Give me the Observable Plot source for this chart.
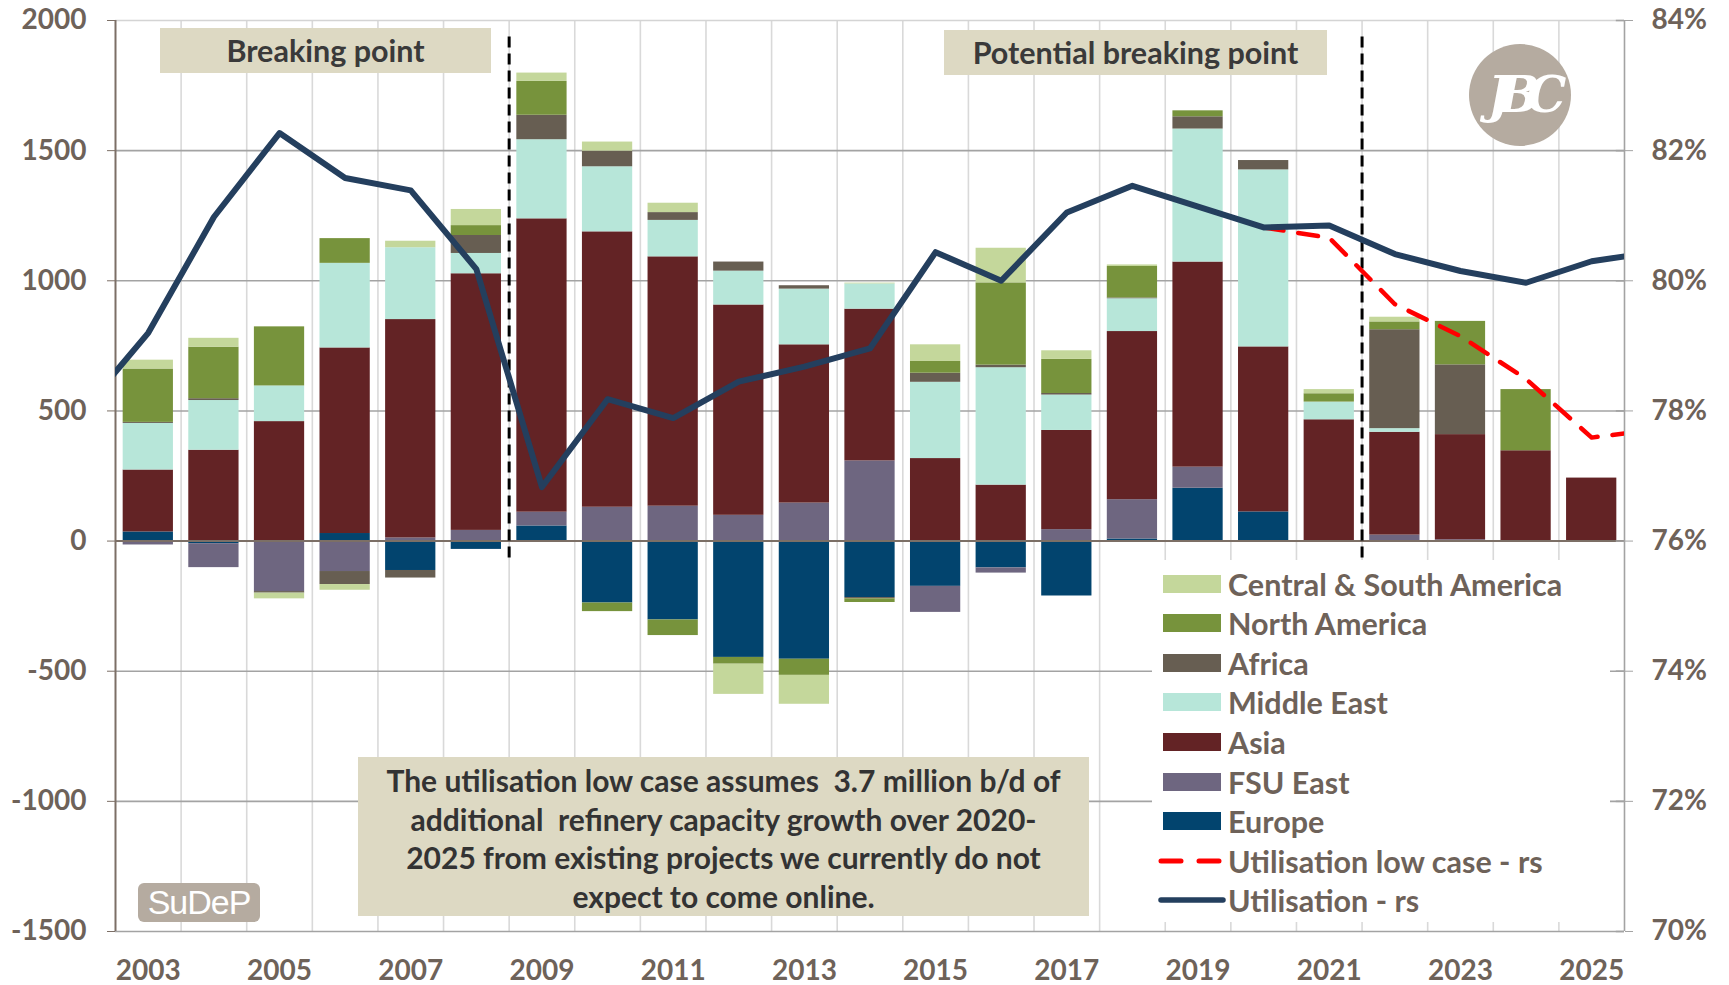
<!DOCTYPE html>
<html><head><meta charset="utf-8">
<script src="https://cdn.jsdelivr.net/npm/d3@7"></script>
<script src="https://cdn.jsdelivr.net/npm/@observablehq/plot@0.6"></script>
<style>
html,body{margin:0;padding:0;background:#fff;}
#wrap{position:relative;width:1729px;height:985px;overflow:hidden;font-family:Lato,"Open Sans",sans-serif;}
#wrap svg text{font-weight:700;}
.box{position:absolute;background:#ddd9c3;color:#3a3a3a;font-weight:700;text-align:center;box-sizing:border-box;white-space:nowrap;}
.legend{position:absolute;background:#fff;}
.lrow{position:absolute;left:0;height:40px;display:flex;align-items:center;color:#6e6259;font-weight:700;font-size:30.5px;white-space:nowrap;}
.sw{width:58px;height:18px;margin-left:11px;margin-right:7px;}
</style></head><body><div id="wrap"></div>
<script>
// ---- data ----
const years = [2003,2004,2005,2006,2007,2008,2009,2010,2011,2012,2013,2014,2015,2016,2017,2018,2019,2020,2021,2022,2023,2024,2025];
const regions = ["Europe","FSU East","Asia","Middle East","Africa","North America","Central & South America"];
const regionColors = ["#02446e","#6e6680","#632325","#b7e6d9","#675e52","#77933c","#c4d79b"];
const europe       = [35,-10,0,29,-113,-32,58,-238,-303,-447,-454,-217,-174,-103,-211,8,203,112,0,0,0,0,0];
const fsuEast      = [-15,-92,-194,-117,12,41,53,130,134,99,146,308,-100,-20,44,151,81,0,0,23,5,0,0];
const asia         = [238,349,459,713,839,986,1127,1058,958,808,608,583,317,215,381,646,788,634,466,395,404,347,242];
const middleEast   = [179,191,137,325,276,78,304,250,140,130,214,97,293,451,136,126,511,680,68,14,0,0,0];
const africa       = [4,7,-6,-50,-29,69,94,60,30,35,13,-5,35,10,6,3,47,36,0,380,268,0,0];
const northAmerica = [205,198,227,95,0,38,130,-33,-60,-26,-62,-14,45,316,131,121,23,0,32,30,167,235,0];
const csAmerica    = [34,34,-22,-22,25,62,32,35,36,-116,-111,3,64,133,33,6,0,0,16,18,0,0,0];
// utilisation (right scale, %), series runs past the plotted range and is clipped at the frame
const utilYears = [2002,2003,2004,2005,2006,2007,2008,2009,2010,2011,2012,2013,2014,2015,2016,2017,2018,2019,2020,2021,2022,2023,2024,2025,2026];
const utilisation = [78.0,79.20,80.98,82.27,81.58,81.39,80.18,76.83,78.18,77.89,78.45,78.68,78.96,80.44,80.00,81.05,81.46,81.14,80.82,80.85,80.41,80.15,79.97,80.30,80.45];
const lowYears = [2020,2021,2022,2023,2024,2025,2026];
const lowCase = [80.82,80.66,79.64,79.15,78.49,77.59,77.72];
const yTicks = [-1500,-1000,-500,0,500,1000,1500,2000];
const xLabelYears = [2003,2005,2007,2009,2011,2013,2015,2017,2019,2021,2023,2025];
const breakAfter = [2008,2021];

// ---- tables ----
const seriesByRegion = {"Europe":europe,"FSU East":fsuEast,"Asia":asia,"Middle East":middleEast,"Africa":africa,"North America":northAmerica,"Central & South America":csAmerica};
const rows = regions.flatMap(r => years.map((y,i) => ({year:y, region:r, value:seriesByRegion[r][i]})));
const utilRows = utilYears.map((y,i) => ({year:y, pct:utilisation[i]}));
const lowRows = lowYears.map((y,i) => ({year:y, pct:lowCase[i]}));
const pctToY = p => (p - 76) * 250;   // 76% <-> 0, 2 pts <-> 500
const yToPct = v => 76 + v / 250;

const xDomain = [years[0]-0.5, years[years.length-1]+0.5];
const half = 0.383;
const labelColor = "#6e6259";

const chart = Plot.plot({
  width:1729, height:985,
  marginLeft:115, marginRight:105, marginTop:20, marginBottom:54,
  style:{background:"white", fontFamily:"Lato, sans-serif", overflow:"visible"},
  x:{type:"linear", domain:xDomain, axis:null},
  y:{domain:[yTicks[0], yTicks[yTicks.length-1]], axis:null},
  color:{domain:regions, range:regionColors},
  marks:[
    Plot.ruleX(years.slice(1).map(y => y-0.5), {stroke:"#d9d9d9", strokeWidth:1.6}),
    Plot.ruleY(yTicks.filter(v => v !== 0 && v !== yTicks[yTicks.length-1]), {stroke:"#a3a3a3", strokeWidth:1.6}),
    Plot.ruleY([yTicks[yTicks.length-1]], {stroke:"#d4d4d4", strokeWidth:1.6}),
    Plot.rectY(rows, {x1:d => d.year-half, x2:d => d.year+half, y:"value", fill:"region"}),
    Plot.ruleY([0], {stroke:"#7c6f66", strokeWidth:2}),
    Plot.ruleX([xDomain[0]], {stroke:"#7c6f66", strokeWidth:2}),
    Plot.ruleX([xDomain[1]], {stroke:"#a3a3a3", strokeWidth:1.6}),
    Plot.ruleY(yTicks, {x1:xDomain[1]-0.125, x2:xDomain[1], stroke:"#a3a3a3", strokeWidth:1.6}),
    Plot.ruleX(breakAfter.map(y => y+0.5), {y1:-65, y2:1940, stroke:"black", strokeWidth:3, strokeDasharray:"11,6"}),
    Plot.line(lowRows, {x:"year", y:d => pctToY(d.pct), stroke:"#ff0000", strokeWidth:4.5, strokeDasharray:"20,15", strokeLinecap:"round", clip:true}),
    Plot.line(utilRows, {x:"year", y:d => pctToY(d.pct), stroke:"#243f5e", strokeWidth:6, strokeLinejoin:"round", clip:true}),
    Plot.axisY({anchor:"left", label:null, ticks:yTicks, tickSize:8, tickPadding:21, tickFormat:d => String(d), stroke:"#7c6f66", fill:labelColor, fontSize:28, fontWeight:"bold"}),
    Plot.axisY({anchor:"right", label:null, ticks:yTicks, tickSize:8, tickPadding:19, tickFormat:d => `${yToPct(d)}%`, stroke:"#a3a3a3", fill:labelColor, fontSize:28, fontWeight:"bold"}),
    Plot.axisX({anchor:"bottom", label:null, ticks:xLabelYears, tickSize:0, tickPadding:29, tickFormat:d => String(d), fill:labelColor, fontSize:28, fontWeight:"bold"})
  ]
});

const wrap = document.getElementById("wrap");
wrap.appendChild(chart);

function addBox(html, left, top, w, h, extra) {
  const d = document.createElement("div");
  d.className = "box";
  Object.assign(d.style, {left:left+"px", top:top+"px", width:w+"px", height:h+"px"}, extra || {});
  d.innerHTML = html;
  wrap.appendChild(d);
  return d;
}
addBox("Breaking point", 160, 28, 331, 45, {fontSize:"30.5px", lineHeight:"45px"});
addBox("Potential breaking point", 944, 30, 383, 45, {fontSize:"30.5px", lineHeight:"45px"});
addBox("The utilisation low case assumes&nbsp; 3.7 million b/d of<br>additional&nbsp; refinery capacity growth over 2020-<br>2025 from existing projects we currently do not<br>expect to come online.",
  358, 757, 731, 159, {fontSize:"30px", lineHeight:"38.6px", paddingTop:"4px", color:"#333"});

// SuDeP tag
const sudep = document.createElement("div");
Object.assign(sudep.style, {position:"absolute", left:"138px", top:"883px", width:"122px", height:"39px", background:"#b5aba0",
  borderRadius:"6px", color:"#fff", fontFamily:"'Liberation Sans', Arial, sans-serif", fontSize:"34px", lineHeight:"39px",
  textAlign:"center", letterSpacing:"-1px"});
sudep.textContent = "SuDeP";
wrap.appendChild(sudep);

// round logo
const logo = document.createElement("div");
Object.assign(logo.style, {position:"absolute", left:"1469px", top:"44px", width:"102px", height:"102px", borderRadius:"50%",
  background:"#b5aba0", color:"#fff", fontFamily:"'DejaVu Serif', serif", fontWeight:"700", fontStyle:"italic", fontSize:"50px",
  lineHeight:"102px", textAlign:"center", letterSpacing:"-14px", overflow:"hidden"});
logo.textContent = "JBC";
wrap.appendChild(logo);

// legend
const legend = document.createElement("div");
legend.className = "legend";
Object.assign(legend.style, {left:"1152px", top:"560px", width:"458px", height:"362px"});
wrap.appendChild(legend);
const legendItems = regions.slice().reverse().map(r => ({label:r, type:"swatch", color:regionColors[regions.indexOf(r)]}))
  .concat([{label:"Utilisation low case - rs", type:"dash"}, {label:"Utilisation - rs", type:"line"}]);
legendItems.forEach((it, i) => {
  const row = document.createElement("div");
  row.className = "lrow";
  row.style.top = (23.5 + i*39.6 - 20) + "px";
  let sw;
  if (it.type === "swatch") {
    sw = `<span class="sw" style="background:${it.color}"></span>`;
  } else if (it.type === "dash") {
    sw = `<svg width="76" height="18" style="margin-right:0"><line x1="9" y1="9" x2="69" y2="9" stroke="#ff0000" stroke-width="5" stroke-dasharray="20,18" stroke-linecap="round"/></svg>`;
  } else {
    sw = `<svg width="76" height="18" style="margin-right:0"><line x1="9" y1="9" x2="71" y2="9" stroke="#243f5e" stroke-width="5.5" stroke-linecap="round"/></svg>`;
  }
  row.innerHTML = sw + `<span>${it.label.replace("&","&amp;")}</span>`;
  legend.appendChild(row);
});
</script></body></html>
